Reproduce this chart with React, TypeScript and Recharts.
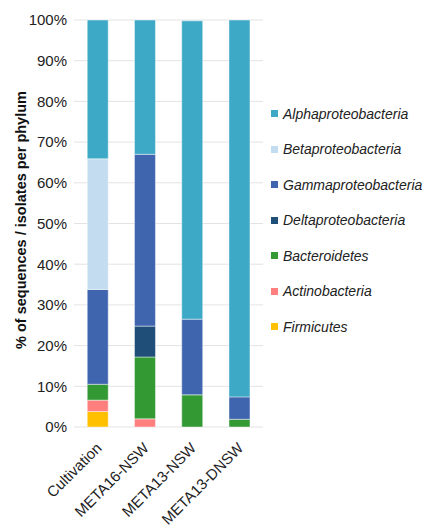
import React from 'react';
import { BarChart, Bar, XAxis, YAxis, CartesianGrid, Label } from 'recharts';

const samples = ['Cultivation', 'META16-NSW', 'META13-NSW', 'META13-DNSW'];

// stacked bottom to top
const firmicutes = [3.8, 0, 0, 0];
const actinobacteria = [2.8, 2.0, 0, 0];
const bacteroidetes = [3.9, 15.2, 7.9, 1.9];
const deltaproteobacteria = [0, 7.6, 0, 0];
const gammaproteobacteria = [23.3, 42.2, 18.6, 5.5];
const betaproteobacteria = [32.1, 0, 0, 0];
const alphaproteobacteria = [34.1, 33.0, 73.3, 92.6];

const yTicks = [0, 10, 20, 30, 40, 50, 60, 70, 80, 90, 100];

const series = [
    { key: 'firmicutes', name: 'Firmicutes', color: '#FFC000', values: firmicutes },
    { key: 'actinobacteria', name: 'Actinobacteria', color: '#FF7F7F', values: actinobacteria },
    { key: 'bacteroidetes', name: 'Bacteroidetes', color: '#339933', values: bacteroidetes },
    { key: 'delta', name: 'Deltaproteobacteria', color: '#1F4E79', values: deltaproteobacteria },
    { key: 'gamma', name: 'Gammaproteobacteria', color: '#4065AF', values: gammaproteobacteria },
    { key: 'beta', name: 'Betaproteobacteria', color: '#C3DCEF', values: betaproteobacteria },
    { key: 'alpha', name: 'Alphaproteobacteria', color: '#3DA9C6', values: alphaproteobacteria },
];

const data = samples.map((sample, i) => {
    const row: Record<string, string | number> = { sample };
    series.forEach((s) => {
        row[s.key] = s.values[i];
    });
    return row;
});

const FONT = '"Liberation Sans", Arial, sans-serif';

function XTick({ x, y, payload }: any) {
    const ax = x + 5;
    const ay = y + 14;
    return (
        <text
            x={ax}
            y={ay}
            transform={`rotate(-45 ${ax} ${ay})`}
            textAnchor="end"
            fontSize={15}
            fontFamily={FONT}
            fill="#222"
        >
            {payload.value}
        </text>
    );
}

// legend lists the top of the stack first
function PhylumLegend() {
    const items = [...series].reverse();
    return (
        <div
            style={{
                position: 'absolute',
                left: 271,
                top: 96,
                fontFamily: FONT,
                fontSize: 14,
                fontStyle: 'italic',
                color: '#222',
            }}
        >
            {items.map((s) => (
                <div key={s.key} style={{ display: 'flex', alignItems: 'center', height: 35.5 }}>
                    <span
                        style={{
                            display: 'inline-block',
                            width: 7,
                            height: 7,
                            background: s.color,
                            marginRight: 5,
                        }}
                    />
                    {s.name}
                </div>
            ))}
        </div>
    );
}

export default function App() {
    return (
        <div style={{ position: 'absolute', left: 0, top: 0, width: 441, height: 530, background: '#fff' }}>
            <BarChart
                width={441}
                height={530}
                data={data}
                barCategoryGap="28%"
                margin={{ top: 20, right: 178, left: 14, bottom: 13 }}
            >
                <CartesianGrid vertical={false} stroke="#e3e3e3" />
                <XAxis
                    dataKey="sample"
                    axisLine={false}
                    tickLine={false}
                    interval={0}
                    height={90}
                    tick={<XTick />}
                />
                <YAxis
                    domain={[0, 100]}
                    ticks={yTicks}
                    tickFormatter={(v: number) => `${v}%`}
                    axisLine={false}
                    tickLine={false}
                    width={60}
                    tickMargin={1}
                    tick={{ fontSize: 15, fill: '#222', fontFamily: FONT }}
                >
                    <Label
                        content={() => (
                            <text
                                x={26}
                                y={220}
                                transform="rotate(-90 26 220)"
                                textAnchor="middle"
                                fontSize={14.5}
                                fontWeight="bold"
                                fontFamily={FONT}
                                fill="#111"
                            >
                                % of sequences / isolates per phylum
                            </text>
                        )}
                    />
                </YAxis>
                {series.map((s) => (
                    <Bar
                        key={s.key}
                        dataKey={s.key}
                        name={s.name}
                        stackId="a"
                        fill={s.color}
                        stroke="rgba(255,255,255,0.45)"
                        strokeWidth={1}
                        isAnimationActive={false}
                    />
                ))}
            </BarChart>
            <PhylumLegend />
        </div>
    );
}
